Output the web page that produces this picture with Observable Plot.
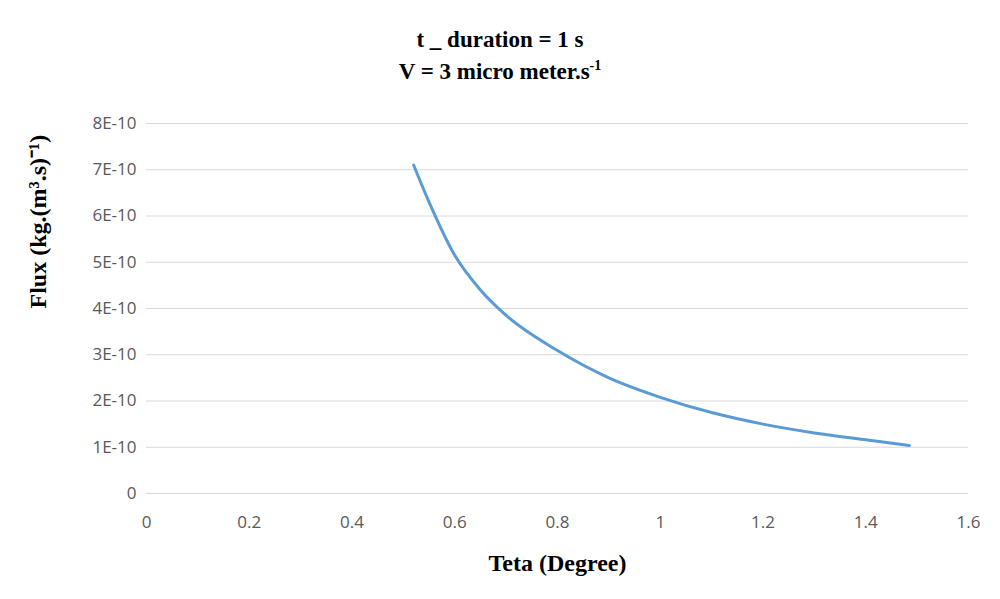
<!DOCTYPE html>
<html><head><meta charset="utf-8">
<script src="https://cdn.jsdelivr.net/npm/d3@7"></script>
<script src="https://cdn.jsdelivr.net/npm/@observablehq/plot@0.6"></script>
<style>
body{margin:0;background:#fff;width:1000px;height:599px;overflow:hidden}
#title{height:100px;text-align:center;font-family:"Liberation Serif",serif;font-weight:bold;font-size:23px;line-height:32px;padding-top:24px;box-sizing:border-box}
#title sup{font-size:14px;line-height:0;vertical-align:9px}
</style></head><body>
<div id="title">t _ duration = 1 s<br>V = 3 micro meter.s<sup>-1</sup></div>
<div id="chart"></div>
<script>
const teta = [0.52, 0.55, 0.6, 0.65, 0.7, 0.8, 0.9, 1.0, 1.1, 1.2, 1.3, 1.4, 1.485];
const flux = [7.1e-10, 6.3e-10, 5.15e-10, 4.4e-10, 3.85e-10, 3.09e-10, 2.5e-10, 2.08e-10, 1.75e-10, 1.5e-10, 1.31e-10, 1.16e-10, 1.04e-10];
const yTicks = [0,1e-10,2e-10,3e-10,4e-10,5e-10,6e-10,7e-10,8e-10];
const xTicks = [0,0.2,0.4,0.6,0.8,1.0,1.2,1.4,1.6];
const data = teta.map((t,i)=>({t, f: flux[i]}));
const plot = Plot.plot({
  width:1000, height:499,
  marginTop:23, marginBottom:106, marginLeft:146, marginRight:32,
  style:{fontFamily:"'Open Sans', sans-serif", fontSize:"17px", color:"#595959"},
  x:{domain:[0,1.6], ticks:xTicks, tickFormat:d=>String(+d.toFixed(1)), label:null, tickSize:0, tickPadding:22},
  y:{domain:[0,8e-10], ticks:yTicks, tickFormat:d=>d===0?"0":`${Math.round(d/1e-10)}E-10`, label:null, tickSize:0, tickPadding:10},
  marks:[
    Plot.gridY(yTicks,{stroke:"#d9d9d9", strokeOpacity:1}),
    Plot.ruleY([0],{stroke:"#d9d9d9"}),
    Plot.line(data,{x:"t", y:"f", stroke:"#5b9bd5", strokeWidth:3, curve:"monotone-x"}),
    Plot.text(["Teta (Degree)"],{frameAnchor:"bottom", dy:77, fontFamily:"'Liberation Serif', serif", fontWeight:"bold", fontSize:24, fill:"#000"}),
    Plot.text(["Flux (kg.(m³.s)⁻¹)"],{frameAnchor:"left", dx:-108, rotate:-90, fontFamily:"'Liberation Serif', serif", fontWeight:"bold", fontSize:24, fill:"#000"})
  ]
});
document.getElementById("chart").append(plot);
</script>
</body></html>
